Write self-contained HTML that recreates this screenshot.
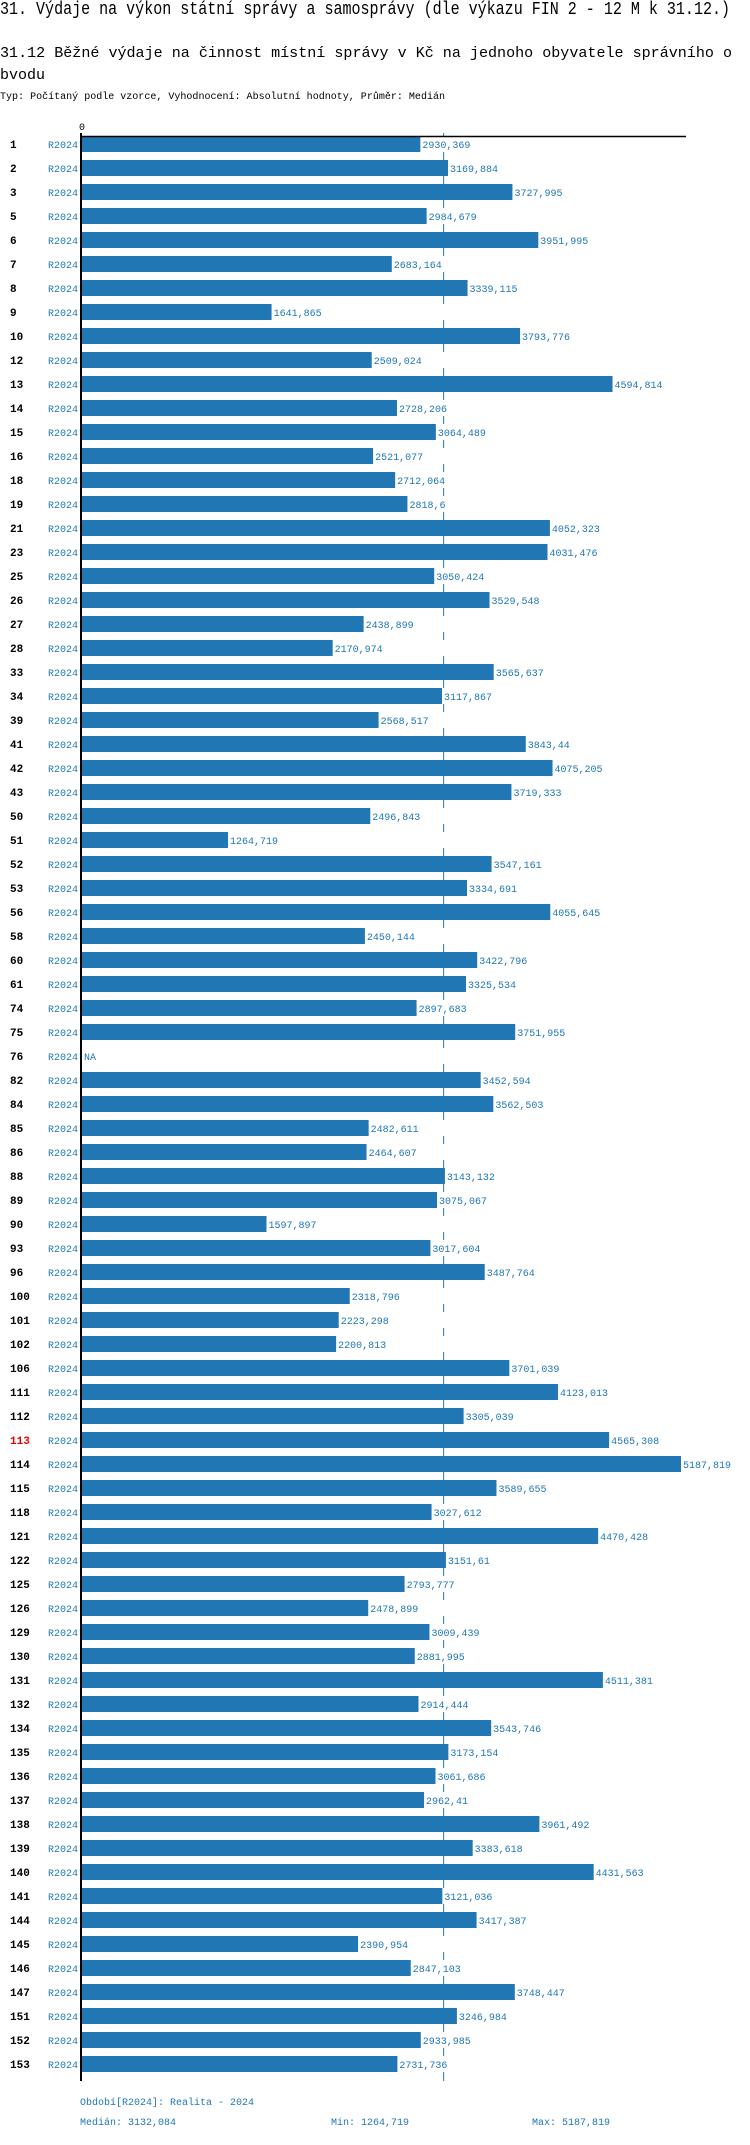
<!DOCTYPE html>
<html><head><meta charset="utf-8"><style>
body{margin:0;background:#fff;width:750px;height:2140px;overflow:hidden;font-family:"Liberation Mono",monospace;}
svg text{font-family:"Liberation Mono",monospace;}
</style></head><body>
<svg id="chart" width="750" height="2140" xmlns="http://www.w3.org/2000/svg">
<text x="0" y="14" font-size="18" fill="#000" textLength="730" lengthAdjust="spacingAndGlyphs">31. Výdaje na výkon státní správy a samosprávy (dle výkazu FIN 2 - 12 M k 31.12.)</text>
<text x="0" y="57" font-size="15" fill="#000" textLength="732" lengthAdjust="spacingAndGlyphs">31.12 Běžné výdaje na činnost místní správy v Kč na jednoho obyvatele správního o</text>
<text x="0" y="79" font-size="15" fill="#000">bvodu</text>
<text x="0" y="99" font-size="10" fill="#000" textLength="445" lengthAdjust="spacingAndGlyphs">Typ: Počítaný podle vzorce, Vyhodnocení: Absolutní hodnoty, Průměr: Medián</text>
<text x="79" y="130" font-size="10" fill="#000">0</text>
<g id="marks"></g>
<line x1="80" y1="136.5" x2="686" y2="136.5" stroke="#000" stroke-width="1.5"/>
<line x1="81" y1="133" x2="81" y2="2081" stroke="#000" stroke-width="2"/>
<text x="80" y="2105" font-size="10" fill="#2077b4">Období[R2024]: Realita - 2024</text>
<text x="80" y="2125" font-size="10" fill="#2077b4">Medián: 3132,084</text>
<text x="331" y="2125" font-size="10" fill="#2077b4">Min: 1264,719</text>
<text x="532" y="2125" font-size="10" fill="#2077b4">Max: 5187,819</text>
</svg>
<script>
const categories=[1,2,3,5,6,7,8,9,10,12,13,14,15,16,18,19,21,23,25,26,27,28,33,34,39,41,42,43,50,51,52,53,56,58,60,61,74,75,76,82,84,85,86,88,89,90,93,96,100,101,102,106,111,112,113,114,115,118,121,122,125,126,129,130,131,132,134,135,136,137,138,139,140,141,144,145,146,147,151,152,153];
const values=[2930.369,3169.884,3727.995,2984.679,3951.995,2683.164,3339.115,1641.865,3793.776,2509.024,4594.814,2728.206,3064.489,2521.077,2712.064,2818.6,4052.323,4031.476,3050.424,3529.548,2438.899,2170.974,3565.637,3117.867,2568.517,3843.44,4075.205,3719.333,2496.843,1264.719,3547.161,3334.691,4055.645,2450.144,3422.796,3325.534,2897.683,3751.955,null,3452.594,3562.503,2482.611,2464.607,3143.132,3075.067,1597.897,3017.604,3487.764,2318.796,2223.298,2200.813,3701.039,4123.013,3305.039,4565.308,5187.819,3589.655,3027.612,4470.428,3151.61,2793.777,2478.899,3009.439,2881.995,4511.381,2914.444,3543.746,3173.154,3061.686,2962.41,3961.492,3383.618,4431.563,3121.036,3417.387,2390.954,2847.103,3748.447,3246.984,2933.985,2731.736];
const seriesLabel="R2024";
const medianValue=3132.084;
const highlighted=[113];
const NS="http://www.w3.org/2000/svg";
const x0=82, scale=(681-82)/5187.819;
function xs(v){return x0+v*scale;}
function yRow(i){return 136+i*24;}
function fmt(v){return String(v).replace('.',',');}
const g=document.getElementById('marks');
function mk(tag,attrs){const e=document.createElementNS(NS,tag);for(const k in attrs)e.setAttribute(k,attrs[k]);return e;}
const mx=xs(medianValue);
const segs=[[133,136]];
categories.forEach((c,i)=>{const y=yRow(i);segs.push([y+16,i===categories.length-1?2081:y+24]);});
segs.forEach(s=>{
  const med=mk('line',{x1:mx,y1:s[0],x2:mx,y2:s[1],stroke:'#2077b4','stroke-width':1});
  
  
  g.appendChild(med);
});
categories.forEach((c,i)=>{
  const y=yRow(i);
  const lab=mk('text',{x:10,y:y+12,'font-size':11,'font-weight':'bold',fill:highlighted.includes(c)?'#e00':'#000'});
  lab.textContent=c;
  
  
  g.appendChild(lab);
  const sl=mk('text',{x:48,y:y+12,'font-size':10,fill:'#2077b4'});
  sl.textContent=seriesLabel;
  
  
  g.appendChild(sl);
  const v=values[i];
  if(v===null){
    const na=mk('text',{x:x0+2,y:y+12,'font-size':10,fill:'#2077b4'});
    na.textContent='NA';
    
    
    g.appendChild(na);return;
  }
  const r=mk('rect',{x:x0,y:y,width:xs(v)-x0,height:16,fill:'#2077b4'});
  
  
  g.appendChild(r);
  const t=mk('text',{x:xs(v)+2,y:y+12,'font-size':10,fill:'#2077b4'});
  t.textContent=fmt(v);
  
  
  g.appendChild(t);
});
</script>
</body></html>
